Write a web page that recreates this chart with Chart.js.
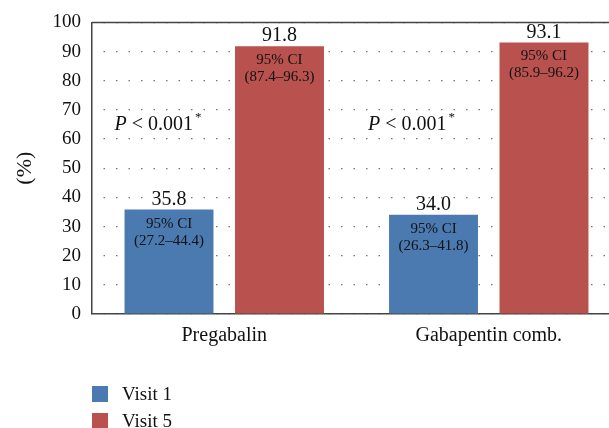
<!DOCTYPE html>
<html><head><meta charset="utf-8">
<script src="https://cdn.jsdelivr.net/npm/chart.js@4"></script>
<style>
html,body{margin:0;padding:0;overflow:hidden;background:#fff;width:609px;height:428px}
#wrap{position:relative;width:630px;height:428px}
canvas{position:absolute;left:0;top:0}
#legend{position:absolute;left:92px;top:386px;font-family:"Liberation Serif","DejaVu Serif",serif;font-size:19px;color:#111}
.item{display:flex;align-items:center;height:16px;margin-bottom:11px;line-height:16px}
.box{width:16px;height:16px;margin-right:14px}
</style></head><body>
<div id="wrap"><canvas id="c" width="630" height="428" style="width:630px;height:428px"></canvas><div id="legend"></div></div>
<script>
const categories = ["Pregabalin", "Gabapentin comb."];
const seriesNames = ["Visit 1", "Visit 5"];
const visit1 = [35.8, 34.0];
const visit5 = [91.8, 93.1];
const ciVisit1 = ["27.2–44.4", "26.3–41.8"];
const ciVisit5 = ["87.4–96.3", "85.9–96.2"];
const pValues = ["0.001", "0.001"];
const pLabelValue = 65;
const yMin = 0, yMax = 100, yStep = 10;
const colors = ["#4a7ab0", "#b9514f"];

const FONT = '"Liberation Serif", "DejaVu Serif", serif';
Chart.defaults.font.family = FONT;
Chart.defaults.color = '#111';

const labelPlugin = {
  id: 'barLabels',
  afterDatasetsDraw(chart) {
    const ctx = chart.ctx;
    const cis = [ciVisit1, ciVisit5];
    chart.data.datasets.forEach((ds, di) => {
      const meta = chart.getDatasetMeta(di);
      meta.data.forEach((bar, i) => {
        const top = bar.y, x = bar.x;
        ctx.save();
        ctx.fillStyle = '#111';
        ctx.textAlign = 'center';
        ctx.textBaseline = 'alphabetic';
        ctx.font = '20px ' + FONT;
        ctx.fillText(ds.data[i].toFixed(1), x, top - 5);
        ctx.font = '15px ' + FONT;
        ctx.textBaseline = 'middle';
        ctx.fillText('95% CI', x, top + 14);
        ctx.fillText('(' + cis[di][i] + ')', x, top + 31);
        ctx.restore();
      });
    });
    const ys = chart.scales.y;
    const meta0 = chart.getDatasetMeta(0);
    const offs = [-10, -21];
    meta0.data.forEach((bar, i) => {
      let x = bar.x - bar.width / 2 + offs[i];
      const y = ys.getPixelForValue(pLabelValue);
      ctx.save();
      ctx.fillStyle = '#111';
      ctx.textAlign = 'left';
      ctx.textBaseline = 'middle';
      ctx.font = 'italic 20px ' + FONT;
      ctx.fillText('P', x, y);
      x += ctx.measureText('P').width;
      ctx.font = '20px ' + FONT;
      const t = ' < ' + pValues[i];
      ctx.fillText(t, x, y);
      x += ctx.measureText(t).width + 2;
      ctx.font = '13px ' + FONT;
      ctx.fillText('*', x, y - 7);
      ctx.restore();
    });
  },
  afterDraw(chart) {
    const {ctx, chartArea} = chart;
    ctx.save();
    ctx.strokeStyle = '#444';
    ctx.lineWidth = 1.5;
    ctx.beginPath();
    ctx.moveTo(chartArea.left, chartArea.top);
    ctx.lineTo(chartArea.right + 20, chartArea.top);
    ctx.stroke();
    ctx.restore();
  }
};

const chart = new Chart(document.getElementById('c'), {
  type: 'bar',
  data: {
    labels: categories,
    datasets: [
      { label: seriesNames[0], data: visit1, backgroundColor: colors[0], categoryPercentage: 0.8355, barPercentage: 0.805 },
      { label: seriesNames[1], data: visit5, backgroundColor: colors[1], categoryPercentage: 0.8355, barPercentage: 0.805 }
    ]
  },
  options: {
    responsive: false,
    animation: false,
    devicePixelRatio: 1,
    layout: { padding: { top: 19, right: 9, left: 0, bottom: 0 } },
    plugins: { legend: { display: false }, tooltip: { enabled: false } },
    scales: {
      x: {
        grid: { display: false, drawTicks: false },
        border: { display: true, color: '#444', width: 1.5 },
        ticks: { font: { size: 20 }, color: '#111', padding: 10 },
        afterFit(scale) { scale.height = 114; }
      },
      y: {
        min: yMin, max: yMax,
        ticks: { stepSize: yStep, font: { size: 19 }, color: '#111', padding: 11 },
        grid: {
          drawTicks: false, color: '#777', lineWidth: 1.2,
          tickBorderDash: [0, 0]
        },
        border: { display: true, color: '#444', width: 1.5, dash: [1.5, 11], dashOffset: 1.5 },
        title: { display: true, text: '(%)', font: { size: 22 }, color: '#111', padding: { top: 12, bottom: 0 } },
        afterFit(scale) { scale.width = 92; }
      }
    }
  },
  plugins: [labelPlugin]
});

const lg = document.getElementById('legend');
chart.data.datasets.forEach(ds => {
  const it = document.createElement('div'); it.className = 'item';
  const b = document.createElement('span'); b.className = 'box'; b.style.background = ds.backgroundColor;
  const t = document.createElement('span'); t.textContent = ds.label;
  it.appendChild(b); it.appendChild(t); lg.appendChild(it);
});
</script></body></html>
